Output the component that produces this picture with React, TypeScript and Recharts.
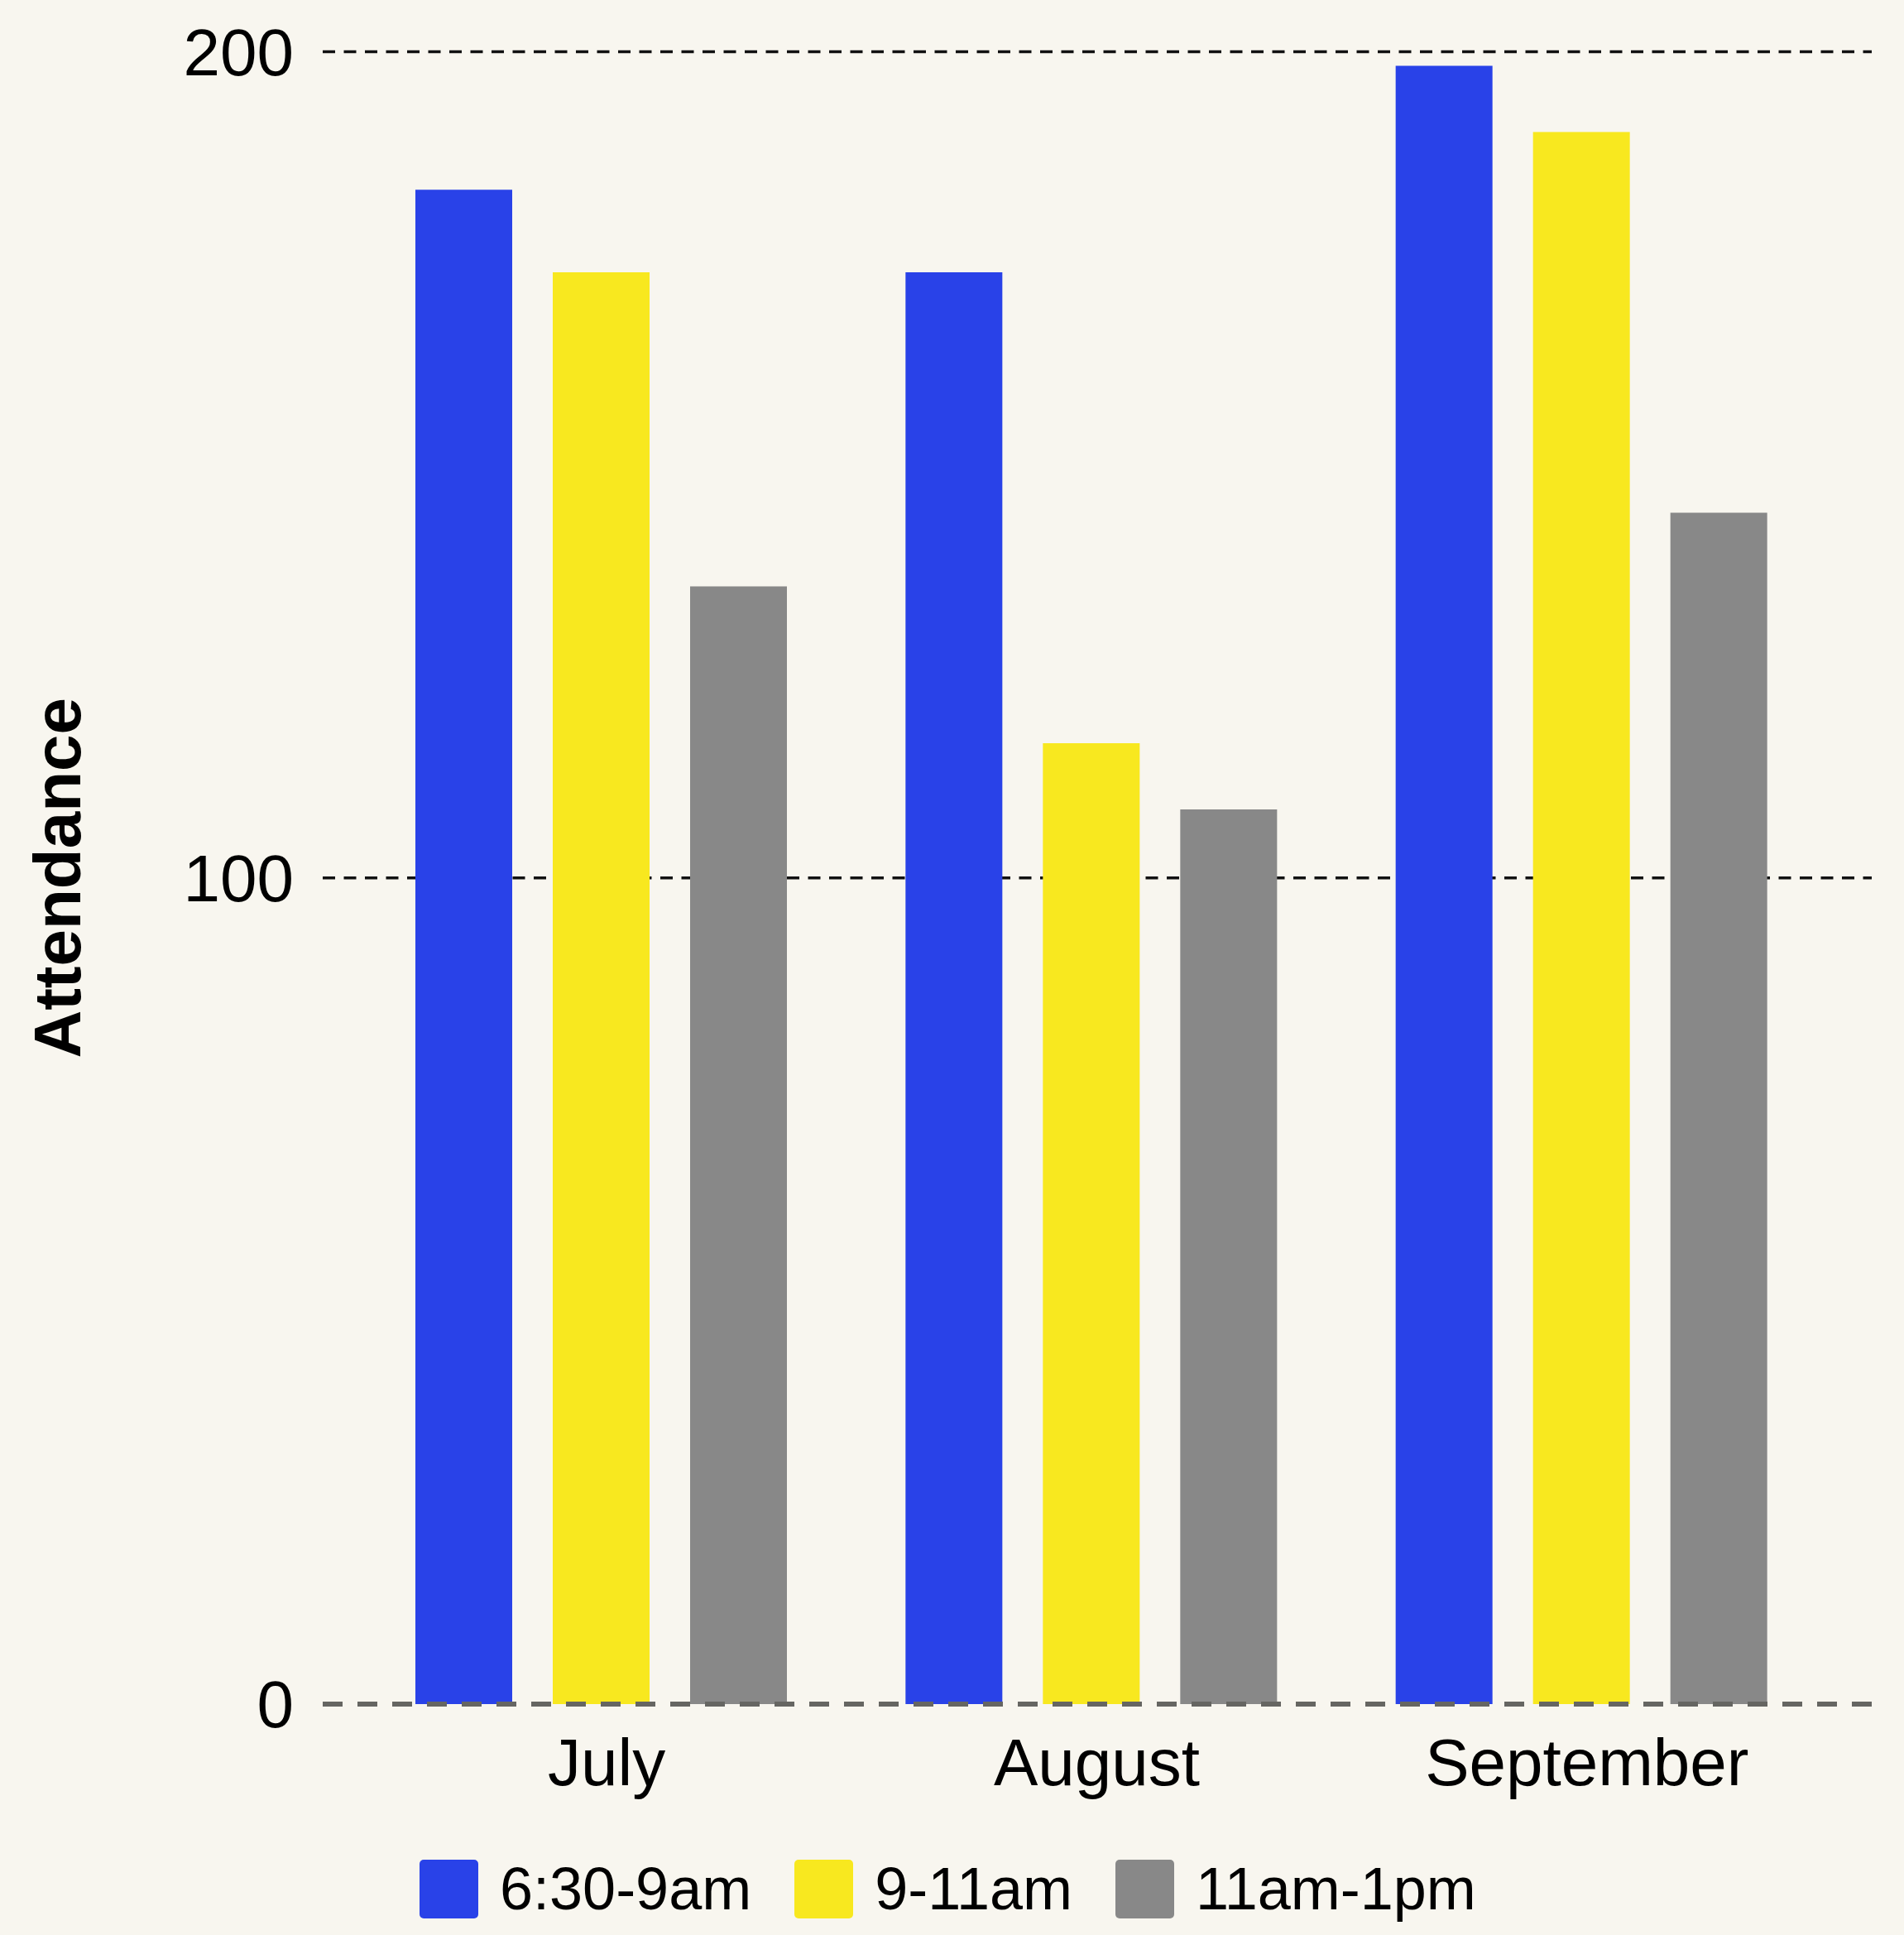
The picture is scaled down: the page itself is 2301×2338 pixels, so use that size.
import React from 'react';
import { BarChart, Bar, XAxis, YAxis, CartesianGrid, ReferenceLine, Legend, Label } from 'recharts';

const months = ['July', 'August', 'September'];
const earlyValues = [183.3, 173.3, 198.3];
const midValues = [173.3, 116.3, 190.3];
const lateValues = [135.3, 108.3, 144.2];
const seriesNames = ['6:30-9am', '9-11am', '11am-1pm'];
const seriesColors = ['#2942E8', '#F8E81F', '#888888'];
const yTicks = [0, 100, 200];
const gridValues = [100, 200];

const data = months.map((m, i) => ({
  month: m,
  early: earlyValues[i],
  mid: midValues[i],
  late: lateValues[i],
}));

const FONT = '"Liberation Sans", Arial, Helvetica, sans-serif';
const BG = '#F8F6EF';

const AxisTitle = (props: any) => {
  const vb = props.viewBox || { x: 0, y: 0, width: 0, height: 0 };
  const cx = vb.x + 97;
  const cy = vb.y + vb.height / 2;
  return (
    <text
      x={cx}
      y={cy}
      transform={`rotate(-90 ${cx} ${cy})`}
      textAnchor="middle"
      fontFamily={FONT}
      fontWeight="bold"
      fontSize={80}
      fill="#000"
    >
      Attendance
    </text>
  );
};

const LegendContent = () => {
  return (
    <div
      style={{
        display: 'flex',
        justifyContent: 'flex-start',
        alignItems: 'center',
        height: 112,
        paddingLeft: 507,
        boxSizing: 'border-box',
        fontFamily: FONT,
        fontSize: 72,
        color: '#000',
      }}
    >
      {seriesNames.map((name, i) => (
        <div key={name} style={{ display: 'flex', alignItems: 'center', marginLeft: i === 0 ? 0 : 52 }}>
          <div style={{ width: 71, height: 71, borderRadius: 5, background: seriesColors[i], marginRight: 26 }} />
          <span style={{ lineHeight: 'normal' }}>{name}</span>
        </div>
      ))}
    </div>
  );
};

export default function App() {
  return (
    <div style={{ width: 2301, height: 2338, background: BG, overflow: 'hidden' }}>
      <style>{`html, body { margin: 0; padding: 0; background: ${BG}; overflow: hidden; }`}</style>
      <BarChart
        width={2301}
        height={2338}
        data={data}
        margin={{ top: 62.6, right: 39, left: 0, bottom: 0 }}
        barGap={49}
        style={{ fontFamily: FONT }}
      >
        <CartesianGrid
          vertical={false}
          stroke="#111"
          strokeWidth={3.5}
          strokeDasharray="15 10.5"
          horizontalValues={gridValues}
        />
        <XAxis
          dataKey="month"
          axisLine={false}
          tickLine={false}
          tickSize={0}
          tickMargin={41}
          height={167}
          padding={{ left: 40, right: 55 }}
          tick={{ fontSize: 80, fill: '#000', fontFamily: FONT, dx: 7 }}
        />
        <YAxis
          width={390}
          domain={[0, 200]}
          ticks={yTicks}
          axisLine={false}
          tickLine={false}
          tickSize={0}
          tickMargin={35}
          tick={{ fontSize: 80, fill: '#000', fontFamily: FONT }}
        >
          <Label content={AxisTitle} />
        </YAxis>
        <Legend verticalAlign="bottom" align="center" wrapperStyle={{ left: 0, width: 2301, bottom: 0 }} content={LegendContent} />
        <Bar dataKey="early" name={seriesNames[0]} fill={seriesColors[0]} barSize={117} isAnimationActive={false} />
        <Bar dataKey="mid" name={seriesNames[1]} fill={seriesColors[1]} barSize={117} isAnimationActive={false} />
        <Bar dataKey="late" name={seriesNames[2]} fill={seriesColors[2]} barSize={117} isAnimationActive={false} />
        <ReferenceLine y={0} stroke="#666662" strokeWidth={6} strokeDasharray="24 18" />
      </BarChart>
    </div>
  );
}
